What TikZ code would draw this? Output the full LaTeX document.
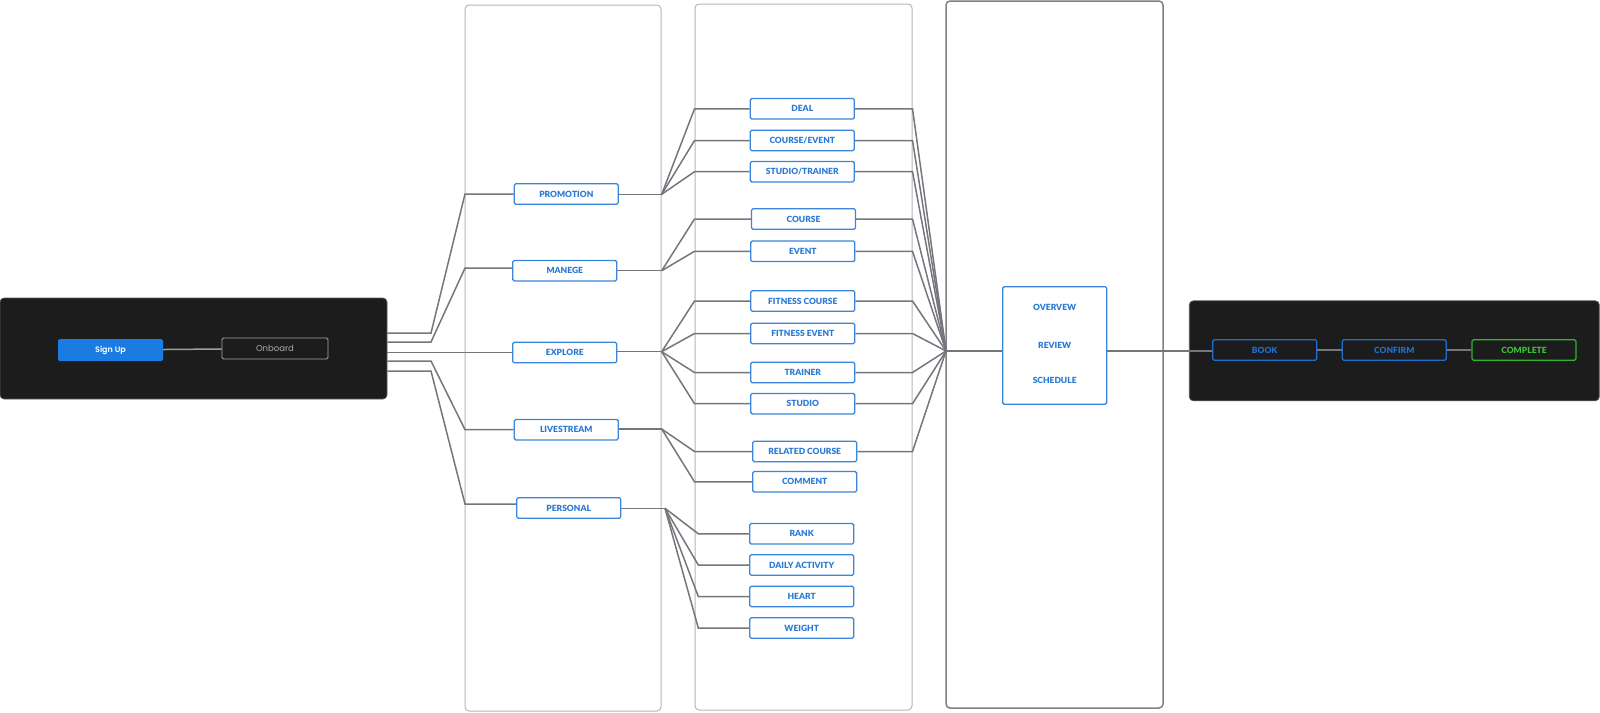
\documentclass[tikz,border=0pt]{standalone}
\usepackage{fontspec}
\setmainfont{Lato}[BoldFont={Lato Black}]
\newfontfamily\popfont{Poppins}[BoldFont={Poppins SemiBold}]
\definecolor{linegray}{HTML}{75767C}
\definecolor{panelgray}{HTML}{B6B6BA}
\definecolor{paneldark}{HTML}{7E7F86}
\definecolor{itemblue}{HTML}{3A86DC}
\definecolor{labelblue}{HTML}{2A79D5}
\definecolor{darkfill}{HTML}{1C1C1C}
\definecolor{darkedge}{HTML}{5A5A5A}
\definecolor{signblue}{HTML}{1A7BE3}
\definecolor{bookblue}{HTML}{1F6FD1}
\definecolor{donegreen}{HTML}{2FB52F}
\definecolor{donetext}{HTML}{3BC23B}
\tikzset{
  conn/.style={draw=linegray, line width=1.5pt},
  panel/.style={draw=panelgray, line width=1pt, rounded corners=4pt, inner sep=0pt},
  darkbox/.style={fill=darkfill, draw=darkedge, line width=0.7pt, rounded corners=4pt, inner sep=0pt},
  item/.style={draw=itemblue, line width=1.3pt, rounded corners=1.5pt, fill=white,
    minimum width=104pt, minimum height=20.5pt, inner sep=0pt,
    font=\fontsize{8.5}{10}\selectfont\bfseries, text=labelblue},
  dlabel/.style={inner sep=0pt, font=\fontsize{8.5}{10}\selectfont\bfseries, text=labelblue},
  stage/.style={item, fill=darkfill, draw=bookblue, text=bookblue},
}
\begin{document}
\begin{tikzpicture}[x=1pt,y=-1pt]
\useasboundingbox (0,0) rectangle (1600,712);

% column frames
\node[panel, minimum width=196pt, minimum height=706pt] (panelA) at (563,358) {};
\node[panel, minimum width=217pt, minimum height=706pt] (panelB) at (803.5,357) {};
\node[panel, draw=paneldark, line width=1.5pt, minimum width=217pt, minimum height=707pt] (panelC) at (1054.5,354.5) {};

% dark start and end blocks
\node[darkbox, minimum width=387pt, minimum height=101pt] (lbox) at (193.5,348.5) {};
\node[darkbox, minimum width=410pt, minimum height=100pt] (rbox) at (1394.3,350.8) {};

\node[fill=signblue, rounded corners=1.5pt, minimum width=105pt, minimum height=22pt, inner sep=0pt,
  font=\popfont\fontsize{8}{10}\selectfont\bfseries, text=white] (signup) at (110.5,350) {Sign Up};
\node[draw=gray!70, line width=0.9pt, rounded corners=1.5pt, minimum width=106pt, minimum height=21pt, inner sep=0pt,
  font=\popfont\fontsize{8.5}{10}\selectfont, text=gray!65] (onboard) at (275,348.5) {Onboard};

% first level
\node[item] (promo)    at (566.3,194)   {PROMOTION};
\node[item] (manege)   at (564.8,270.7) {MANEGE};
\node[item] (explore)  at (564.8,352.5) {EXPLORE};
\node[item] (live)     at (566.3,429.7) {LIVESTREAM};
\node[item] (personal) at (568.7,508)   {PERSONAL};

% second level
\node[item] (deal)          at (802.3,108.8) {DEAL};
\node[item] (courseevent)   at (802.3,140.5) {COURSE/EVENT};
\node[item] (studiotrainer) at (802.3,171.7) {STUDIO/TRAINER};
\node[item] (course)        at (803.5,219)   {COURSE};
\node[item] (event)         at (802.8,251.3) {EVENT};
\node[item] (fcourse)       at (802.8,301)   {FITNESS COURSE};
\node[item] (fevent)        at (802.8,333.5) {FITNESS EVENT};
\node[item] (trainer)       at (802.8,372.5) {TRAINER};
\node[item] (studio)        at (802.8,403.7) {STUDIO};
\node[item] (related)       at (804.7,451.5) {RELATED COURSE};
\node[item] (comment)       at (804.7,481.8) {COMMENT};
\node[item] (rank)          at (801.7,533.8) {RANK};
\node[item] (daily)         at (801.7,565)   {DAILY ACTIVITY};
\node[item] (heart)         at (801.7,596.5) {HEART};
\node[item] (weight)        at (801.7,628)   {WEIGHT};

% detail block
\node[item, minimum height=117.6pt] (detail) at (1054.7,345.5) {};
\node[dlabel] (ov) at (1054.7,307.7) {OVERVEW};
\node[dlabel] (rv) at (1054.7,345.7) {REVIEW};
\node[dlabel] (sc) at (1054.7,380.7) {SCHEDULE};

% booking flow
\node[stage] (book)     at (1264.7,350) {BOOK};
\node[stage] (confirm)  at (1394.3,350) {CONFIRM};
\node[stage, draw=donegreen, text=donetext] (complete) at (1524,350) {COMPLETE};

% bend points
\coordinate (b1) at (431,333);
\coordinate (b2) at (431,342);
\coordinate (b4) at (431,361);
\coordinate (b5) at (431,371);
\coordinate (t1) at (465,194);
\coordinate (t2) at (465,268);
\coordinate (t4) at (465,429.7);
\coordinate (t5) at (465,504);
\coordinate (jP) at (661.7,194.3);
\coordinate (jM) at (661.7,270.7);
\coordinate (jE) at (661.7,351.7);
\coordinate (jL) at (661.7,429);
\coordinate (jQ) at (665,508.3);
\coordinate (fanQ) at (698.3,0);
\coordinate (hub) at (946,351);

% connectors
\draw[conn, draw=gray!75] (signup) -- (onboard);
\draw[conn] (lbox.east |- b1) -- (b1) -- (t1) -- (promo.west |- t1);
\draw[conn] (lbox.east |- b2) -- (b2) -- (t2) -- (manege.west |- t2);
\draw[conn] (lbox.east |- explore.west) -- (explore.west);
\draw[conn] (lbox.east |- b4) -- (b4) -- (t4) -- (live.west |- t4);
\draw[conn] (lbox.east |- b5) -- (b5) -- (t5) -- (personal.west |- t5);

\draw[conn] (promo.east |- jP) -- (jP);
\draw[conn] (manege.east |- jM) -- (jM);
\draw[conn] (explore.east |- jE) -- (jE);
\draw[conn] (live.east |- jL) -- (jL);
\draw[conn] (personal.east |- jQ) -- (jQ);

\foreach \n in {deal,courseevent,studiotrainer}
  \draw[conn] (jP) -- (panelB.west |- \n) -- (\n.west);
\foreach \n in {course,event}
  \draw[conn] (jM) -- (panelB.west |- \n) -- (\n.west);
\foreach \n in {fcourse,fevent,trainer,studio}
  \draw[conn] (jE) -- (panelB.west |- \n) -- (\n.west);
\foreach \n in {related,comment}
  \draw[conn] (jL) -- (panelB.west |- \n) -- (\n.west);
\foreach \n in {rank,daily,heart,weight}
  \draw[conn] (jQ) -- (fanQ |- \n) -- (\n.west);

\foreach \n in {deal,courseevent,studiotrainer,course,event,fcourse,fevent,trainer,studio,related}
  \draw[conn] (\n.east) -- (panelB.east |- \n) -- (hub);

\draw[conn] (hub) -- (detail.west |- hub);
\draw[conn] (detail.east |- hub) -- (book.west |- hub);
\draw[conn] (book) -- (confirm);
\draw[conn] (confirm) -- (complete);
\end{tikzpicture}
\end{document}
